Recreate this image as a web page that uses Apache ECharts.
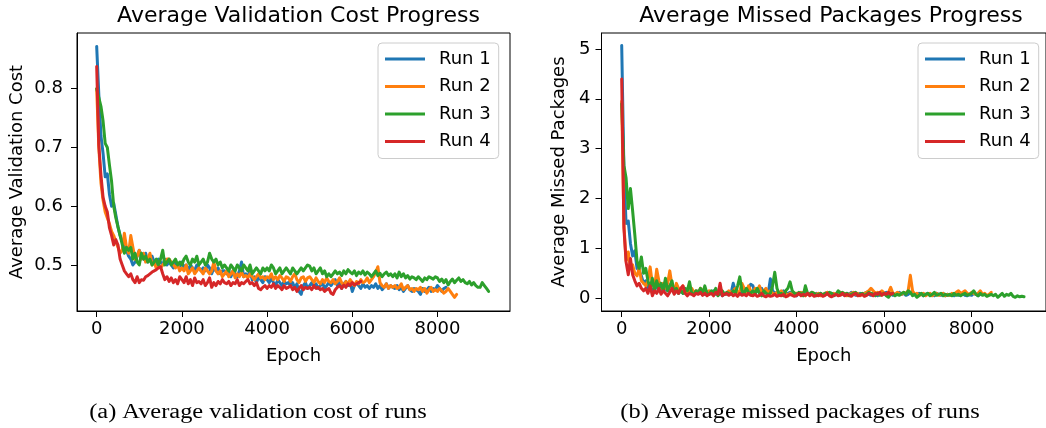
<!DOCTYPE html>
<html>
<head>
<meta charset="utf-8">
<script src="https://cdn.jsdelivr.net/npm/echarts@6/dist/echarts.min.js"></script>
<style>html,body{margin:0;padding:0;background:#fff}#c{width:1046px;height:428px}</style>
</head>
<body>
<div id="c"></div>
<script>
const STEP = 50;
const runNames = ['Run 1', 'Run 2', 'Run 3', 'Run 4'];
const runColors = ['#1f77b4', '#ff7f0e', '#2ca02c', '#d62728'];
const xTicks = [0, 2000, 4000, 6000, 8000];
const costTicks = [0.5, 0.6, 0.7, 0.8];
const missedTicks = [0, 1, 2, 3, 4, 5];
const titles = ['Average Validation Cost Progress', 'Average Missed Packages Progress'];
const yNames = ['Average Validation Cost', 'Average Missed Packages'];
const captions = ['(a) Average validation cost of runs', '(b) Average missed packages of runs'];

// Average validation cost, one value every 50 epochs
const costRun1 = [
0.872,0.79,0.72,0.69,0.65,0.655,0.62,0.60,0.605,0.585,
0.565,0.55,0.54,0.53,0.525,0.515,0.51,0.50,0.505,0.515,
0.525,0.515,0.51,0.52,0.505,0.51,0.515,0.505,0.50,0.51,
0.505,0.50,0.51,0.50,0.505,0.50,0.495,0.505,0.50,0.498,
0.505,0.495,0.50,0.49,0.50,0.495,0.49,0.50,0.495,0.49,
0.495,0.49,0.50,0.495,0.485,0.495,0.49,0.495,0.485,0.49,
0.49,0.485,0.49,0.48,0.49,0.485,0.48,0.49,0.505,0.48,
0.485,0.48,0.49,0.475,0.48,0.47,0.48,0.475,0.47,0.48,
0.475,0.47,0.478,0.47,0.465,0.475,0.47,0.465,0.472,0.468,
0.47,0.465,0.47,0.46,0.468,0.455,0.45,0.465,0.47,0.46,
0.465,0.47,0.462,0.468,0.46,0.465,0.47,0.46,0.465,0.47,
0.465,0.47,0.475,0.465,0.47,0.46,0.468,0.472,0.465,0.47,
0.455,0.465,0.47,0.465,0.46,0.468,0.462,0.465,0.46,0.465,
0.462,0.468,0.46,0.465,0.458,0.462,0.468,0.46,0.465,0.462,
0.46,0.465,0.458,0.462,0.455,0.46,0.465,0.458,0.455,0.46,
0.458,0.455,0.45,0.46,0.455,0.458,0.462,0.455,0.46,0.458,
0.465,0.46,0.455,0.46,0.462];
const costRun2 = [
0.80,0.70,0.64,0.61,0.59,0.58,0.57,0.557,0.55,0.54,
0.53,0.52,0.525,0.554,0.53,0.52,0.55,0.53,0.51,0.515,
0.525,0.51,0.52,0.505,0.51,0.52,0.50,0.505,0.494,0.50,
0.495,0.50,0.505,0.51,0.51,0.505,0.50,0.495,0.50,0.49,
0.495,0.49,0.50,0.485,0.49,0.495,0.485,0.49,0.495,0.49,
0.485,0.495,0.49,0.485,0.49,0.505,0.49,0.485,0.49,0.48,
0.485,0.49,0.48,0.485,0.49,0.478,0.485,0.48,0.488,0.48,
0.482,0.478,0.485,0.48,0.475,0.48,0.485,0.478,0.48,0.475,
0.48,0.478,0.485,0.475,0.48,0.475,0.482,0.478,0.472,0.48,
0.478,0.472,0.48,0.485,0.475,0.47,0.478,0.48,0.472,0.478,
0.48,0.475,0.47,0.478,0.472,0.468,0.475,0.47,0.478,0.472,
0.47,0.475,0.468,0.472,0.478,0.47,0.465,0.472,0.468,0.475,
0.47,0.465,0.472,0.468,0.475,0.47,0.472,0.478,0.47,0.475,
0.48,0.488,0.497,0.47,0.465,0.462,0.468,0.46,0.465,0.462,
0.465,0.46,0.462,0.468,0.458,0.462,0.465,0.458,0.46,0.455,
0.46,0.458,0.462,0.455,0.46,0.452,0.458,0.462,0.455,0.458,
0.455,0.46,0.456,0.452,0.455,0.46,0.455,0.45,0.445,0.45];
const costRun3 = [
0.80,0.785,0.77,0.745,0.707,0.70,0.67,0.642,0.60,0.58,
0.565,0.55,0.535,0.52,0.53,0.525,0.53,0.51,0.52,0.505,
0.50,0.52,0.51,0.515,0.505,0.51,0.50,0.505,0.51,0.50,
0.51,0.525,0.50,0.505,0.51,0.50,0.505,0.51,0.50,0.505,
0.50,0.51,0.515,0.505,0.50,0.51,0.505,0.515,0.50,0.505,
0.51,0.50,0.505,0.52,0.51,0.505,0.51,0.50,0.505,0.495,
0.50,0.495,0.49,0.50,0.495,0.49,0.50,0.495,0.49,0.50,
0.495,0.49,0.50,0.485,0.49,0.495,0.49,0.485,0.495,0.49,
0.495,0.49,0.50,0.495,0.485,0.49,0.495,0.485,0.49,0.495,
0.49,0.485,0.495,0.49,0.485,0.49,0.495,0.49,0.495,0.50,
0.498,0.49,0.495,0.485,0.49,0.495,0.485,0.49,0.48,0.485,
0.48,0.485,0.49,0.485,0.488,0.482,0.49,0.485,0.492,0.488,
0.485,0.49,0.482,0.488,0.485,0.49,0.483,0.488,0.485,0.48,
0.485,0.49,0.482,0.486,0.48,0.485,0.488,0.482,0.485,0.48,
0.485,0.478,0.488,0.48,0.485,0.478,0.482,0.476,0.48,0.478,
0.475,0.48,0.476,0.472,0.478,0.475,0.48,0.478,0.476,0.48,
0.478,0.472,0.476,0.47,0.475,0.466,0.472,0.476,0.47,0.474,
0.478,0.472,0.475,0.47,0.468,0.472,0.466,0.47,0.465,0.462,
0.462,0.47,0.465,0.46,0.455];
const costRun4 = [
0.838,0.704,0.653,0.615,0.60,0.59,0.563,0.55,0.534,0.543,
0.534,0.51,0.50,0.49,0.485,0.48,0.485,0.475,0.47,0.48,
0.47,0.475,0.474,0.48,0.482,0.485,0.488,0.49,0.492,0.495,
0.497,0.485,0.475,0.48,0.472,0.478,0.47,0.475,0.468,0.48,
0.475,0.47,0.48,0.468,0.475,0.465,0.478,0.47,0.472,0.468,
0.475,0.465,0.47,0.478,0.462,0.47,0.465,0.472,0.468,0.475,
0.47,0.468,0.472,0.465,0.47,0.468,0.475,0.465,0.47,0.468,
0.472,0.475,0.468,0.47,0.465,0.47,0.46,0.458,0.462,0.465,
0.46,0.465,0.462,0.468,0.46,0.465,0.462,0.458,0.465,0.46,
0.462,0.465,0.458,0.462,0.455,0.46,0.465,0.458,0.462,0.46,
0.462,0.458,0.465,0.46,0.462,0.458,0.46,0.455,0.458,0.46,
0.452,0.45,0.458,0.462,0.465,0.46,0.466,0.462,0.468,0.465,
0.47,0.466,0.468,0.47,0.472];

// Average missed packages, one value every 50 epochs
const missedRun1 = [
5.07,2.6,1.5,1.55,1.1,0.85,0.95,0.6,0.55,0.45,
0.3,0.35,0.2,0.25,0.15,0.2,0.25,0.15,0.2,0.15,
0.2,0.15,0.25,0.3,0.15,0.2,0.1,0.15,0.1,0.15,
0.1,0.15,0.12,0.08,0.1,0.15,0.1,0.12,0.08,0.1,
0.12,0.1,0.15,0.08,0.1,0.12,0.05,0.1,0.08,0.12,
0.1,0.3,0.15,0.1,0.12,0.08,0.15,0.1,0.2,0.28,
0.25,0.1,0.15,0.12,0.2,0.1,0.15,0.1,0.39,0.15,
0.1,0.12,0.08,0.1,0.15,0.08,0.1,0.12,0.08,0.1,
0.05,0.1,0.08,0.12,0.1,0.08,0.1,0.12,0.08,0.1,
0.08,0.1,0.06,0.1,0.12,0.08,0.1,0.06,0.08,0.1,
0.12,0.08,0.06,0.1,0.08,0.12,0.1,0.06,0.08,0.1,
0.08,0.1,0.12,0.08,0.06,0.1,0.08,0.05,0.1,0.08,
0.1,0.12,0.08,0.1,0.06,0.08,0.1,0.12,0.08,0.1,
0.06,0.08,0.12,0.1,0.08,0.06,0.1,0.08,0.05,0.08,
0.1,0.06,0.08,0.05,0.1,0.08,0.06,0.1,0.05,0.08,
0.06,0.08,0.05,0.1,0.06,0.08,0.1,0.06,0.05,0.08,
0.06,0.1,0.08,0.05,0.08];
const missedRun2 = [
3.95,1.5,0.75,0.93,0.6,0.67,0.5,0.45,0.6,0.35,
0.3,0.25,0.35,0.63,0.3,0.2,0.58,0.35,0.2,0.3,
0.2,0.3,0.55,0.25,0.15,0.3,0.2,0.15,0.25,0.1,
0.15,0.1,0.2,0.12,0.15,0.1,0.2,0.15,0.1,0.12,
0.15,0.1,0.08,0.15,0.1,0.2,0.12,0.08,0.1,0.15,
0.1,0.15,0.2,0.1,0.15,0.3,0.2,0.1,0.25,0.15,
0.1,0.2,0.15,0.25,0.1,0.15,0.2,0.1,0.15,0.1,
0.08,0.12,0.1,0.15,0.08,0.1,0.05,0.1,0.08,0.1,
0.1,0.08,0.12,0.1,0.05,0.1,0.08,0.12,0.1,0.08,
0.1,0.05,0.08,0.1,0.12,0.08,0.05,0.1,0.08,0.1,
0.12,0.08,0.1,0.05,0.08,0.1,0.12,0.08,0.1,0.05,
0.08,0.1,0.12,0.15,0.2,0.15,0.1,0.12,0.1,0.15,
0.1,0.08,0.12,0.22,0.1,0.08,0.12,0.1,0.08,0.12,
0.1,0.15,0.46,0.15,0.08,0.1,0.05,0.08,0.1,0.05,
0.08,0.1,0.05,0.08,0.1,0.06,0.08,0.1,0.05,0.08,
0.06,0.1,0.08,0.12,0.15,0.1,0.12,0.15,0.1,0.08,
0.12,0.1,0.08,0.1,0.15,0.08,0.1,0.05,0.08,0.12];
const missedRun3 = [
3.9,2.67,2.41,1.8,2.2,1.75,1.27,0.75,0.6,0.83,
0.5,0.6,0.35,0.2,0.4,0.15,0.35,0.2,0.3,0.15,
0.4,0.15,0.25,0.35,0.1,0.2,0.1,0.15,0.1,0.2,
0.15,0.33,0.1,0.08,0.15,0.1,0.2,0.1,0.25,0.1,
0.08,0.15,0.1,0.2,0.05,0.1,0.15,0.08,0.12,0.1,
0.08,0.15,0.1,0.25,0.43,0.15,0.1,0.2,0.12,0.1,
0.15,0.1,0.2,0.1,0.05,0.15,0.1,0.08,0.1,0.25,
0.52,0.2,0.08,0.1,0.05,0.15,0.2,0.33,0.15,0.1,
0.08,0.12,0.1,0.05,0.25,0.1,0.08,0.12,0.1,0.05,
0.08,0.1,0.06,0.1,0.08,0.12,0.1,0.05,0.08,0.15,
0.1,0.12,0.08,0.1,0.05,0.08,0.1,0.12,0.06,0.08,
0.1,0.05,0.08,0.12,0.1,0.08,0.05,0.1,0.06,0.08,
0.1,0.05,0.02,0.08,0.1,0.05,0.08,0.06,0.1,0.12,
0.08,0.15,0.12,0.05,0.08,0.02,0.06,0.1,0.05,0.08,
0.1,0.05,0.08,0.12,0.06,0.08,0.1,0.05,0.08,0.06,
0.08,0.05,0.1,0.06,0.08,0.05,0.08,0.1,0.06,0.08,
0.1,0.15,0.08,0.05,0.1,0.06,0.08,0.04,0.06,0.08,
0.05,0.08,0.02,0.06,0.1,0.04,0.08,0.06,0.1,0.04,
0.02,0.05,0.03,0.04,0.03];
const missedRun4 = [
4.4,1.41,0.73,0.47,0.8,0.47,0.35,0.25,0.3,0.2,
0.15,0.2,0.1,0.25,0.05,0.15,0.1,0.2,0.08,0.15,
0.1,0.05,0.12,0.2,0.08,0.15,0.1,0.2,0.25,0.1,
0.05,0.1,0.08,0.05,0.1,0.08,0.12,0.06,0.1,0.05,
0.08,0.1,0.05,0.12,0.08,0.3,0.05,0.08,0.1,0.06,
0.1,0.05,0.08,0.04,0.1,0.06,0.08,0.05,0.1,0.06,
0.05,0.08,0.04,0.06,0.1,0.05,0.03,0.06,0.04,0.05,
0.08,0.04,0.06,0.05,0.08,0.03,0.05,0.08,0.06,0.04,
0.06,0.1,0.05,0.08,0.06,0.1,0.05,0.08,0.04,0.06,
0.05,0.08,0.04,0.06,0.1,0.05,0.03,0.06,0.08,0.05,
0.06,0.1,0.05,0.08,0.06,0.04,0.08,0.1,0.05,0.06,
0.08,0.04,0.06,0.1,0.08,0.05,0.1,0.08,0.12,0.06,
0.1,0.08,0.12,0.08,0.1];

const costRuns = [costRun1, costRun2, costRun3, costRun4];
const missedRuns = [missedRun1, missedRun2, missedRun3, missedRun4];

const FONT = 'DejaVu Sans';
const TXT = '#000';

function pairs(vals) { return vals.map((v, i) => [i * STEP, v]); }

function makeX(gi) {
  return {
    type: 'value', gridIndex: gi, min: -462, max: 9702,
    name: 'Epoch', nameLocation: 'middle', nameGap: 35,
    nameTextStyle: { fontSize: 18, color: TXT, fontFamily: FONT, lineHeight: 20 },
    axisLine: { show: true, onZero: false, lineStyle: { color: '#000', width: 1 } },
    axisTick: { show: true, length: 6, customValues: xTicks, lineStyle: { color: '#000', width: 1 } },
    axisLabel: { customValues: xTicks, fontSize: 18, color: TXT, fontFamily: FONT, margin: 9, lineHeight: 18,
      formatter: v => String(Math.round(v)) },
    splitLine: { show: false }
  };
}
function makeY(gi, min, max, ticks, gap, labMargin, fmt) {
  return {
    type: 'value', gridIndex: gi, min: min, max: max,
    name: yNames[gi], nameLocation: 'middle', nameGap: gap,
    nameTextStyle: { fontSize: 18, color: TXT, fontFamily: FONT, lineHeight: 20 },
    axisLine: { show: true, onZero: false, lineStyle: { color: '#000', width: 1 } },
    axisTick: { show: true, length: 6, customValues: ticks, lineStyle: { color: '#000', width: 1 } },
    axisLabel: { customValues: ticks, fontSize: 18, color: TXT, fontFamily: FONT, margin: labMargin, formatter: fmt },
    splitLine: { show: false }
  };
}
function makeLegend(left) {
  return {
    data: runNames, orient: 'vertical', left: left, top: 43,
    icon: 'rect', itemWidth: 40, itemHeight: 3, itemGap: 9.5,
    padding: [7, 8, 8, 7],
    borderColor: '#cccccc', borderWidth: 1, borderRadius: 4,
    backgroundColor: 'rgba(255,255,255,0.8)',
    selectedMode: false,
    textStyle: { fontSize: 18, color: TXT, fontFamily: FONT, lineHeight: 18, padding: [0, 0, 0, 9] }
  };
}

const series = [];
costRuns.forEach((r, k) => series.push({
  type: 'line', name: runNames[k], xAxisIndex: 0, yAxisIndex: 0, data: pairs(r),
  showSymbol: false, symbol: 'none', color: runColors[k],
  lineStyle: { width: 3, color: runColors[k], join: 'round', cap: 'round' }, z: 2 + k
}));
missedRuns.forEach((r, k) => series.push({
  type: 'line', name: runNames[k], xAxisIndex: 1, yAxisIndex: 1, data: pairs(r),
  showSymbol: false, symbol: 'none', color: runColors[k],
  lineStyle: { width: 3, color: runColors[k], join: 'round', cap: 'round' }, z: 2 + k
}));

const capStyle = { fontSize: 20, fontFamily: 'Liberation Serif', fill: '#000', textAlign: 'center', textVerticalAlign: 'middle' };

const chart = echarts.init(document.getElementById('c'), null, { renderer: 'canvas' });
chart.setOption({
  animation: false,
  backgroundColor: '#fff',
  title: [
    { text: titles[0], left: 293.5, top: 0, textAlign: 'center',
      textStyle: { fontSize: 22, fontWeight: 'normal', color: TXT, fontFamily: FONT } },
    { text: titles[1], left: 826, top: 0, textAlign: 'center',
      textStyle: { fontSize: 22, fontWeight: 'normal', color: TXT, fontFamily: FONT } }
  ],
  grid: [
    { left: 77, top: 33, width: 433, height: 278, show: true, borderColor: '#000', borderWidth: 1, backgroundColor: 'transparent' },
    { left: 601.5, top: 33, width: 450.3, height: 278, show: true, borderColor: '#000', borderWidth: 1, backgroundColor: 'transparent' }
  ],
  xAxis: [makeX(0), makeX(1)],
  yAxis: [
    makeY(0, 0.4217, 0.8948, costTicks, 50, 14, v => v.toFixed(1)),
    makeY(1, -0.255, 5.32, missedTicks, 32, 11, v => String(Math.round(v)))
  ],
  legend: [makeLegend(378), makeLegend(918)],
  graphic: [
    { type: 'text', x: 258, y: 413, scaleX: 1.22, style: Object.assign({ text: captions[0] }, capStyle) },
    { type: 'text', x: 800, y: 413, scaleX: 1.22, style: Object.assign({ text: captions[1] }, capStyle) }
  ],
  series: series
});
</script>
</body>
</html>
